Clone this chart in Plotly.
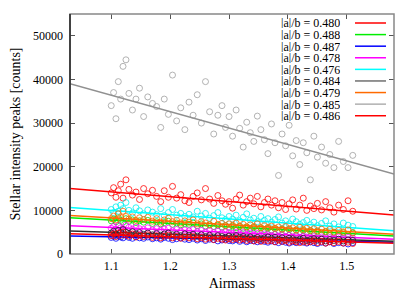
import plotly.graph_objects as go

airmass = [1.100, 1.104, 1.108, 1.112, 1.116, 1.120, 1.125, 1.130, 1.136, 1.142, 1.148,
           1.155, 1.162, 1.170, 1.177, 1.184, 1.190, 1.197, 1.204, 1.211, 1.218, 1.225,
           1.232, 1.239, 1.246, 1.253, 1.260, 1.267, 1.274, 1.281, 1.288, 1.294, 1.300,
           1.306, 1.312, 1.318, 1.324, 1.330, 1.336, 1.342, 1.348, 1.354, 1.360, 1.366,
           1.372, 1.378, 1.384, 1.390, 1.396, 1.402, 1.408, 1.414, 1.420, 1.426, 1.432,
           1.438, 1.444, 1.450, 1.457, 1.464, 1.471, 1.478, 1.486, 1.494, 1.502, 1.510]

red_480 = [14000, 15200, 13000, 14500, 16000, 12800, 17000, 14800, 13500, 14200, 12500,
           15000, 13800, 14600, 13200, 12000, 14500, 13000, 15500, 12800, 13600, 12200,
           11800, 13200, 14000, 12400, 15000, 12600, 11600, 13400, 12200, 11400, 12000,
           10500, 12600, 13500, 11200, 12000, 12800, 11500, 13200, 10800, 11800, 12600,
           11200, 12200, 10600, 11800, 10200, 11500, 12400, 10300, 11200, 12800, 10000,
           11000, 10400, 11600, 10100, 12000, 10600, 9600, 11200, 10200, 12200, 9800]
green_488 = [7600, 8000, 7400, 8300, 7700, 7300, 8100, 7500, 7800, 7200, 7600,
             7300, 7700, 7000, 7400, 6900, 7200, 7500, 6800, 7100, 6700, 7000,
             6800, 7100, 6500, 6900, 6400, 6700, 6300, 6600, 6200, 6500, 6100,
             6400, 6000, 6300, 5900, 6200, 5800, 6100, 5700, 6000, 5600, 5900,
             5500, 5800, 5400, 5700, 5300, 5600, 5200, 5500, 5100, 5400, 5000,
             5300, 4900, 5200, 4800, 5100, 4700, 5000, 4600, 4900, 4500, 4800]
blue_487 = [3800, 4100, 3600, 4200, 3900, 3700, 4300, 3800, 3600, 4000, 3700,
            3600, 3900, 3500, 3700, 3400, 3800, 3600, 3300, 3500, 3700, 3400,
            3300, 3600, 3200, 3500, 3100, 3400, 3300, 3000, 3200, 3400, 3100,
            3000, 3300, 2900, 3200, 2800, 3100, 3000, 2800, 3100, 2900, 2700,
            3000, 2800, 2600, 2900, 2700, 2500, 2800, 2600, 2900, 2700, 2500,
            2800, 2600, 2400, 2700, 2500, 2800, 2400, 2600, 2500, 2300, 2600]
magenta_478 = [5900, 6300, 5700, 6500, 6000, 5800, 6600, 6100, 5700, 6200, 5800,
               5600, 6000, 5500, 5800, 5400, 5700, 5900, 5300, 5600, 5200, 5500,
               5300, 5600, 5100, 5400, 5000, 5300, 4900, 5200, 4800, 5100, 4900,
               4700, 5000, 4600, 4900, 4500, 4800, 4400, 4700, 4300, 4600, 4400,
               4200, 4500, 4100, 4400, 4000, 4300, 3900, 4200, 3800, 4100, 3900,
               3700, 4000, 3600, 3900, 3500, 3800, 3600, 3900, 3500, 3800, 3600]
cyan_476 = [10200, 9500, 10800, 9800, 11200, 10400, 11800, 10000, 9400, 10600, 9900,
            9200, 10100, 9600, 9000, 10400, 8800, 9500, 10200, 8900, 9300, 8600,
            9100, 8500, 9800, 8700, 9300, 8200, 8800, 9500, 8300, 7900, 8600,
            8000, 8900, 7600, 8400, 9200, 7800, 8200, 7400, 8600, 7700, 8100,
            7300, 7900, 8500, 7100, 7600, 6900, 8000, 7400, 6800, 7200, 7700,
            6700, 7300, 6500, 7000, 7600, 6400, 6900, 6200, 7100, 6600, 6300]
black_484 = [4800, 5200, 4600, 5400, 4900, 5600, 5000, 4700, 5100, 4600, 4900,
             4500, 4800, 4400, 4700, 4300, 4600, 4800, 4400, 4500, 4200, 4600,
             4300, 4500, 4100, 4400, 4000, 4300, 3900, 4200, 4000, 3800, 4100,
             3900, 4200, 3800, 4000, 3700, 3900, 3600, 3800, 3500, 3700, 3900,
             3600, 3800, 3400, 3700, 3300, 3600, 3500, 3200, 3400, 3600, 3100,
             3300, 3500, 3200, 3400, 3000, 3300, 3100, 3400, 3000, 3200, 3100]
orange_479 = [8100, 8700, 7800, 9200, 8400, 9800, 8600, 8000, 8500, 7700, 8300,
              7900, 8400, 7500, 8100, 7300, 7800, 8200, 7400, 7700, 7100, 7600,
              7300, 7800, 6900, 7400, 7100, 6700, 7500, 6800, 7000, 6500, 6900,
              6600, 7100, 6400, 6800, 6200, 6700, 6300, 6900, 6000, 6500, 6100,
              6400, 5900, 6200, 5700, 6300, 5800, 6000, 5500, 6100, 5600, 5900,
              5400, 5800, 5300, 5700, 5200, 5600, 5000, 5400, 5100, 5500, 4900]
gray_485 = [34000, 37000, 31000, 39500, 35500, 43000, 44500, 36800, 33000, 35500, 38000,
            31500, 36000, 34500, 33800, 29000, 35500, 32000, 41000, 30500, 33500, 28500,
            34800, 31800, 36500, 30000, 39500, 32600, 27500, 31800, 34000, 29000, 31500,
            27000, 33000, 28800, 24500, 30200, 27800, 25800, 31600, 28500, 26200, 23000,
            29800, 25500, 18000, 27500, 24800, 29500, 22500, 26000, 20500, 25500, 23200,
            17000, 27000, 22200, 24500, 20800, 22800, 19800, 25800, 21200, 19800, 22600]
red_486 = [4200, 4600, 4000, 4800, 4300, 5000, 4400, 4100, 4600, 3900, 4300,
           4000, 4400, 3800, 4200, 3700, 4100, 4300, 3700, 4000, 3600, 3900,
           3700, 4000, 3500, 3800, 3400, 3700, 3300, 3600, 3400, 3200, 3500,
           3300, 3600, 3200, 3500, 3100, 3400, 3000, 3300, 2900, 3200, 3000,
           3100, 2800, 3200, 2900, 3100, 2700, 3000, 2800, 2600, 2900, 2700,
           2800, 3000, 2600, 2900, 2500, 2800, 2600, 2900, 2500, 2700, 2400]

labels = ["|a|/b = 0.480", "|a|/b = 0.488", "|a|/b = 0.487", "|a|/b = 0.478", "|a|/b = 0.476",
          "|a|/b = 0.484", "|a|/b = 0.479", "|a|/b = 0.485", "|a|/b = 0.486"]
series = [red_480, green_488, blue_487, magenta_478, cyan_476, black_484, orange_479, gray_485, red_486]
point_colors = ["#ff0000", "#00e000", "#0000ff", "#ff00ff", "#00f0f0", "#202020", "#ff6a00", "#a0a0a0", "#ff0000"]
line_colors = ["#ff0000", "#00ee00", "#0000ff", "#ff00ff", "#00ffff", "#303030", "#ff6a00", "#909090", "#ff0000"]
legend_line_colors = ["#ff0000", "#00ee00", "#0000ff", "#ff00ff", "#00ffff", "#707070", "#ff6a00", "#b0b0b0", "#ff0000"]

fit_x = [1.03, 1.58]
fit_start = [15000, 8300, 4120, 6480, 10680, 5260, 8850, 39000, 4650]
fit_end = [8920, 4120, 2670, 3360, 5340, 2900, 4500, 18300, 2440]

fig = go.Figure()
for i, ys in enumerate(series):
    fig.add_trace(go.Scatter(x=airmass, y=ys, mode="markers", showlegend=False,
                             marker=dict(symbol="circle-open", size=6, color=point_colors[i],
                                         line=dict(width=0.8, color=point_colors[i]))))
    fig.add_trace(go.Scatter(x=fit_x, y=[fit_start[i], fit_end[i]], mode="lines", showlegend=False,
                             line=dict(color=line_colors[i], width=1.5)))

font = "Liberation Serif, Times New Roman, serif"
# custom legend: text right-aligned, sample line on the right (gnuplot style)
y0 = 0.9625
dy = 0.0483
shapes = []
annotations = []
for i, lab in enumerate(labels):
    yy = y0 - i * dy
    annotations.append(dict(x=0.8395, y=yy, xref="paper", yref="paper", text=lab, showarrow=False,
                            xanchor="right", yanchor="middle", height=11, valign="middle",
                            font=dict(family=font, size=12, color="black")))
    shapes.append(dict(type="line", xref="paper", yref="paper", x0=0.8796, x1=0.9753, y0=yy, y1=yy,
                       line=dict(color=legend_line_colors[i], width=1.5)))
shapes.append(dict(type="rect", xref="paper", yref="paper", x0=0, x1=1, y0=0, y1=1,
                   line=dict(color="#888888", width=1.5)))
shapes.append(dict(type="line", xref="paper", yref="paper", x0=0, x1=0, y0=0, y1=1,
                   line=dict(color="#222222", width=1.5)))

fig.update_layout(
    width=407, height=283,
    margin=dict(l=62, r=21, t=6, b=37, autoexpand=False),
    plot_bgcolor="white", paper_bgcolor="white",
    font=dict(family=font, size=12, color="black"),
    shapes=shapes, annotations=annotations,
    xaxis=dict(range=[1.03, 1.58], tickvals=[1.1, 1.2, 1.3, 1.4, 1.5], ticktext=["1.1", "1.2", "1.3", "1.4", "1.5"],
               ticks="inside", ticklen=5, tickcolor="#555", mirror="ticks", showgrid=False, zeroline=False,
               showline=False, ticklabelstandoff=3, automargin=False,
               title=dict(text="Airmass", standoff=6)),
    yaxis=dict(range=[0, 55000], tickvals=[0, 10000, 20000, 30000, 40000, 50000],
               ticktext=["0", "10000", "20000", "30000", "40000", "50000"],
               ticks="inside", ticklen=5, tickcolor="#555", mirror="ticks", showgrid=False, zeroline=False,
               showline=False, ticklabelstandoff=6, automargin=False,
               title=dict(text="Stellar intensity peaks [counts]", standoff=16)),
)

fig.write_html("out.html")
